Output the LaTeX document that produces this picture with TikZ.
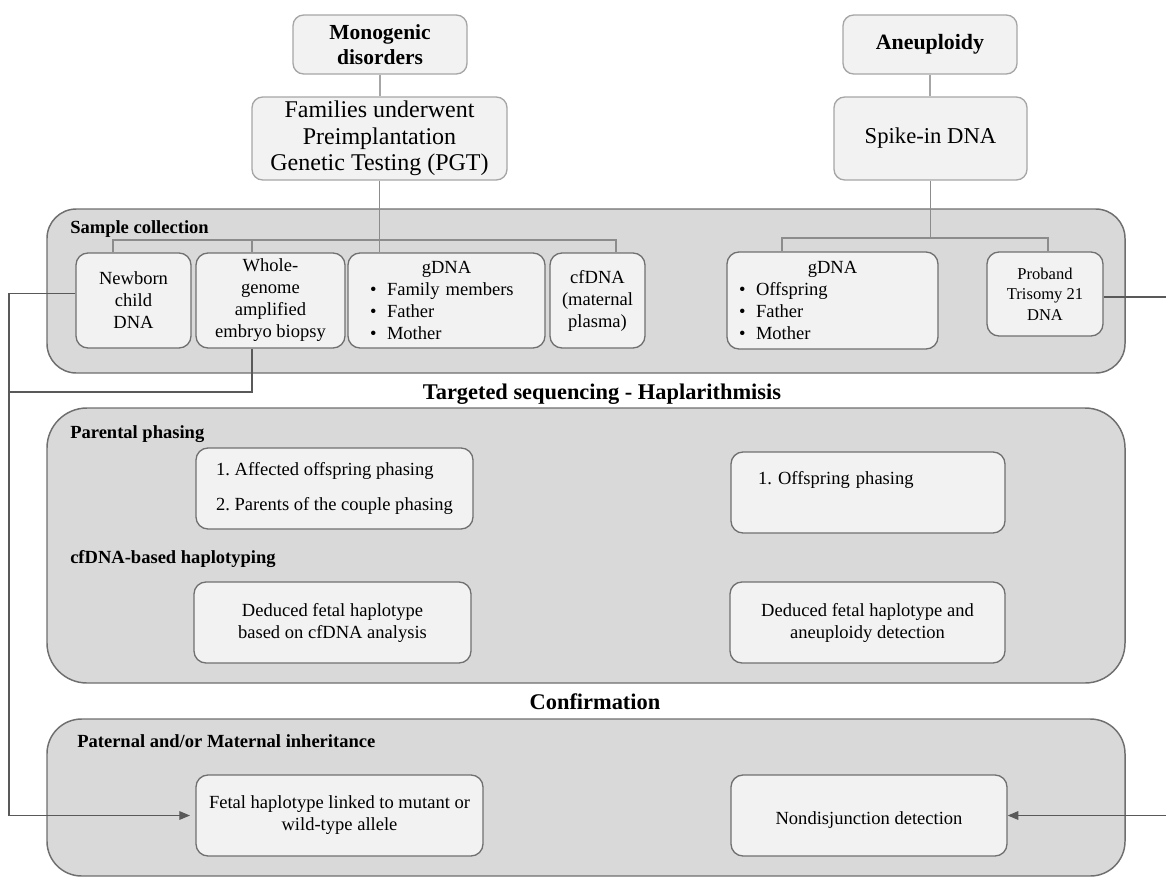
\documentclass[tikz,border=0pt]{standalone}
\usepackage{fontspec}
\setmainfont{Liberation Serif}
\usetikzlibrary{arrows.meta}
\frenchspacing

\definecolor{panelfill}{HTML}{D9D9D9}
\definecolor{panelline}{HTML}{6F6F6F}
\definecolor{boxfill}{HTML}{F2F2F2}
\definecolor{boxline}{HTML}{707070}
\definecolor{topline}{HTML}{A6A6A6}
\definecolor{linkgray}{HTML}{8C8C8C}
\definecolor{railgray}{HTML}{595959}

% bullet with a fixed hanging width
\newcommand\bul{\makebox[12.75pt][l]{\textbullet}}

\tikzset{
  size/.style 2 args={minimum width=#1*0.75pt, minimum height=#2*0.75pt},
  panel/.style={draw=panelline, fill=panelfill, line width=1.1pt, inner sep=0pt},
  stage/.style={draw=boxline, fill=boxfill, line width=1pt, rounded corners=9pt,
    inner sep=0pt, align=center, font=\fontsize{13.9pt}{16.5pt}\selectfont},
  % taller first line, so the text sits a little below the box centre
  lowtext/.style={execute at begin node={\rule{0pt}{16pt}}},
  topbox/.style={draw=topline, fill=boxfill, line width=1pt, rounded corners=8pt,
    inner sep=0pt, align=center},
  heading/.style={anchor=base west, inner sep=0pt,
    font=\bfseries\fontsize{13.9pt}{16pt}\selectfont},
  title/.style={anchor=base, inner sep=0pt,
    font=\bfseries\fontsize{16.8pt}{19pt}\selectfont},
  link/.style={draw=linkgray, line width=0.8pt},
  toplink/.style={draw=topline, line width=0.8pt},
  rail/.style={draw=railgray, line width=0.8pt},
  railarrow/.style={rail, -{Triangle[length=8pt,width=6.5pt]}},
}

\begin{document}
\begin{tikzpicture}[x=0.75pt, y=-0.75pt]
\useasboundingbox (0,0) rectangle (1166,878);

% ---- stage panels ----
\node[panel, rounded corners=22pt, size={1078}{164}] (psample) at (586,291) {};
\node[panel, rounded corners=30pt, size={1078}{275}] (pseq) at (586,545.5) {};
\node[panel, rounded corners=26pt, size={1078}{157}] (pconf) at (586,797.5) {};

% ---- stage titles and panel headings ----
\node[title] (tseq) at (602,399) {Targeted sequencing - Haplarithmisis};
\node[title] (tconf) at (595,709) {Confirmation};
\node[heading] (hsample) at (70,233) {Sample collection};
\node[heading] (hphase) at (70,438) {Parental phasing};
\node[heading] (hcf) at (70,563) {cfDNA-based haplotyping};
\node[heading] (hinh) at (77,747) {Paternal and/or Maternal inheritance};

% ---- top row ----
\node[topbox, size={174}{59}, font=\bfseries\fontsize{16.1pt}{18.75pt}\selectfont] (mono) at (380,44.5) {Monogenic\\disorders};
\node[topbox, size={255}{83}, font=\fontsize{18pt}{20pt}\selectfont] (fam) at (379.5,138.5) {Families underwent\\Preimplantation\\Genetic Testing (PGT)};
\node[topbox, size={174}{59}, font=\bfseries\fontsize{16.4pt}{18.75pt}\selectfont] (aneu) at (930,44.5) {Aneuploidy};
\node[topbox, size={193}{83}, font=\fontsize{17pt}{20pt}\selectfont] (spike) at (930.5,138.5) {Spike-in DNA};

% ---- sample collection ----
\node[stage, size={115}{95}] (nb) at (133.5,300.5) {Newborn\\child\\DNA};
\node[stage, size={149}{95}] (wg) at (270.5,300.5) {Whole-\\genome\\amplified\\embryo biopsy};
\node[stage, size={197}{95}, text width=114.75pt, align=left] (gdL) at (446.5,300.5)
  {\hfill gDNA\hfill\null\\\bul Family members\\\bul Father\\\bul Mother};
\node[stage, size={95}{95}] (cf) at (597.5,300.5) {cfDNA\\(maternal\\plasma)};
\node[stage, size={211}{97}, text width=140.25pt, align=left] (gdR) at (832.5,300.5)
  {\hfill gDNA\hfill\null\\\bul Offspring\\\bul Father\\\bul Mother};
\node[stage, size={116}{84}, font=\fontsize{12.4pt}{15.5pt}\selectfont] (pb) at (1045,294) {Proband\\Trisomy 21\\DNA};

% ---- targeted sequencing ----
\node[stage, size={277}{81}] (phL) at (334.5,488.5)
  {\begin{tabular}{@{}l@{}}1. Affected offspring phasing\\[10pt]2. Parents of the couple phasing\end{tabular}};
\node[stage, size={274}{81}, text width=165pt, align=left] (phR) at (868,492.5)
  {1. Offspring phasing\\[5pt]\mbox{}};
\node[stage, lowtext, size={277}{81}] (dfL) at (332.5,622.5) {Deduced fetal haplotype\\based on cfDNA analysis};
\node[stage, lowtext, size={275}{81}] (dfR) at (867.5,622.5) {Deduced fetal haplotype and\\aneuploidy detection};

% ---- confirmation ----
\node[stage, lowtext, size={287}{81}] (fetal) at (339.5,815.5) {Fetal haplotype linked to mutant or\\wild-type allele};
\node[stage, lowtext, size={276}{81}] (nd) at (869,815.5) {Nondisjunction detection};

% ---- tree connectors ----
\draw[toplink] (mono.south) -- (mono.south |- fam.north);
\draw[toplink] (aneu.south) -- (aneu.south |- spike.north);

\coordinate (bl1) at (113,240);
\coordinate (bl2) at (252,240);
\coordinate (bl3) at (616,240);
\draw[link] (fam.south) -- (fam.south |- gdL.north);
\draw[link] (bl1 |- nb.north) -- (bl1) -- (bl3) -- (bl3 |- cf.north);
\draw[link] (bl2) -- (bl2 |- wg.north);

\coordinate (br1) at (782,238);
\coordinate (br2) at (1048,238);
\draw[link] (spike.south) -- (spike.south |- br1);
\draw[link] (br1 |- gdR.north) -- (br1) -- (br2) -- (br2 |- pb.north);

% ---- confirmation rails ----
\coordinate (railL) at (9,0);
\coordinate (railR) at (1185,0);
\coordinate (wgdrop) at (252,392);
\coordinate (nbout) at ([yshift=5.25pt]nb.west);
\coordinate (pbout) at ([yshift=-2.25pt]pb.east);
\draw[railarrow, shorten >=4pt] (nbout) -- (nbout -| railL) -- (railL |- fetal.west) -- (fetal.west);
\draw[rail] (wgdrop |- wg.south) -- (wgdrop) -- (wgdrop -| railL);
\draw[railarrow] (pbout) -- (pbout -| railR) -- (railR |- nd.east) -- (nd.east);
\end{tikzpicture}
\end{document}
